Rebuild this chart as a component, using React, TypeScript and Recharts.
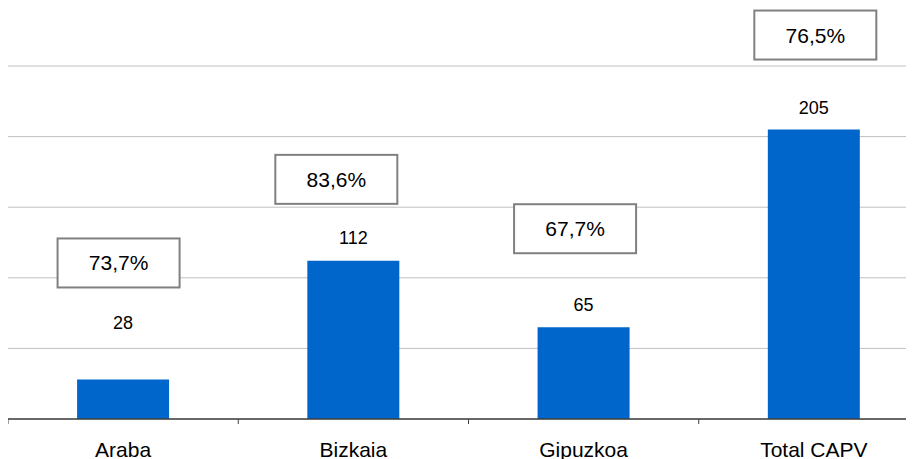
import React from "react";
import { BarChart, Bar, XAxis, YAxis, CartesianGrid, LabelList } from "recharts";

const CATEGORIES = ["Araba", "Bizkaia", "Gipuzkoa", "Total CAPV"];
const VALUES = [28, 112, 65, 205];
const PERCENTS = ["73,7%", "83,6%", "67,7%", "76,5%"];
const Y_TICKS = [0, 50, 100, 150, 200, 250];

// label placement (style constants, px relative to bar top / bar centre)
const VALUE_DY = [56, 23, 22, 22];
const BOX_TOP = [141, 106, 123, 119];
const BOX_DX = [-4.5, -17, -8.5, 1.5];

const data = CATEGORIES.map((name, i) => ({ name, value: VALUES[i], pct: PERCENTS[i] }));

const FONT = "'Liberation Sans', Arial, sans-serif";
const BAND = 230.25;

const BarLabel = (props: any) => {
  const { x, y, width, value, index } = props;
  const cx = x + width / 2;
  const bx = cx + BOX_DX[index];
  const by = y - BOX_TOP[index];
  return (
    <g>
      <text
        x={cx}
        y={y - VALUE_DY[index]}
        textAnchor="middle"
        dominantBaseline="central"
        fontFamily={FONT}
        fontSize={18}
        fill="#000"
      >
        {value}
      </text>
      <rect x={bx - 61} y={by} width={122} height={49} fill="#fff" stroke="#808080" strokeWidth={2} />
      <text
        x={bx}
        y={by + 24.5}
        textAnchor="middle"
        dominantBaseline="central"
        fontFamily={FONT}
        fontSize={21}
        fill="#000"
      >
        {PERCENTS[index]}
      </text>
    </g>
  );
};

const Tick = (props: any) => {
  const { x, y, payload, index } = props;
  const axisY = y;
  return (
    <g>
      <line x1={x - BAND / 2} x2={x - BAND / 2} y1={axisY} y2={axisY + 5} stroke="#404040" strokeWidth={1} />
      {index === CATEGORIES.length - 1 && (
        <line x1={x + BAND / 2} x2={x + BAND / 2} y1={axisY} y2={axisY + 5} stroke="#404040" strokeWidth={1} />
      )}
      <text x={x} y={axisY + 38} textAnchor="middle" fontFamily={FONT} fontSize={21} fill="#000">
        {payload.value}
      </text>
    </g>
  );
};

export default function App() {
  return (
    <div style={{ width: 906, height: 451, overflow: "hidden", background: "#fff" }}>
      <BarChart
        width={921}
        height={451}
        data={data}
        margin={{ top: 58, right: 0, bottom: 0, left: 0 }}
        barCategoryGap="30%"
      >
        <CartesianGrid vertical={false} stroke="#c0c0c0" strokeWidth={1} />
        <YAxis hide domain={[0, 250]} ticks={Y_TICKS} />
        <XAxis
          dataKey="name"
          height={40}
          tickLine={false}
          tickSize={0}
          tickMargin={0}
          axisLine={{ stroke: "#404040", strokeWidth: 1.5 }}
          tick={<Tick />}
          interval={0}
        />
        <Bar dataKey="value" fill="#0066CC" isAnimationActive={false}>
          <LabelList dataKey="value" content={<BarLabel />} />
        </Bar>
      </BarChart>
    </div>
  );
}
